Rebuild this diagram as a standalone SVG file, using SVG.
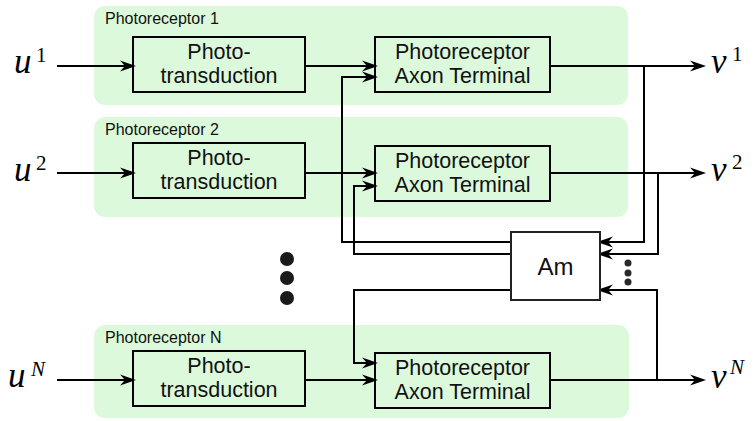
<svg xmlns="http://www.w3.org/2000/svg" width="756" height="421" viewBox="0 0 756 421">
  <style>
    .panel { fill: #dcfadb; }
    .box { fill: none; stroke: #000; stroke-width: 2; }
    .am { fill: #fff; stroke: #222; stroke-width: 2; }
    .lbl { font-family: "Liberation Sans", Arial, sans-serif; font-size: 16px; fill: #111; }
    .txt { font-family: "Liberation Sans", Arial, sans-serif; font-size: 21.5px; fill: #111; text-anchor: middle; }
    .math { font-family: "Liberation Serif", "Times New Roman", serif; font-style: italic; font-size: 35px; fill: #000; }
    .sup { font-family: "Liberation Serif", "Times New Roman", serif; font-style: normal; font-size: 21px; fill: #000; }
    .supi { font-family: "Liberation Serif", "Times New Roman", serif; font-style: italic; font-size: 21px; fill: #000; }
    .wire { fill: none; stroke: #000; stroke-width: 2; }
    .arr { marker-end: url(#ah); }
  </style>
  <defs>
    <marker id="ah" viewBox="-14 -6 17 12" refX="0" refY="0" markerWidth="17" markerHeight="12" markerUnits="userSpaceOnUse" orient="auto">
      <path d="M3,0 L-13,-5.5 L-8,0 L-13,5.5 Z" fill="#000"/>
    </marker>
  </defs>

  <!-- photoreceptor 1 -->
  <g id="photoreceptor-1">
    <rect class="panel" x="94" y="6" width="534" height="99" rx="11"/>
    <text class="lbl" x="105" y="24">Photoreceptor 1</text>
    <g id="phototransduction-1">
      <rect class="box" x="133" y="37" width="172" height="55"/>
      <text class="txt" x="219" y="59">Photo-</text>
      <text class="txt" x="219" y="83">transduction</text>
    </g>
    <g id="axon-terminal-1">
      <rect class="box" x="375" y="37" width="175" height="55"/>
      <text class="txt" x="462.5" y="59">Photoreceptor</text>
      <text class="txt" x="462.5" y="83">Axon Terminal</text>
    </g>
  </g>

  <!-- photoreceptor 2 -->
  <g id="photoreceptor-2">
    <rect class="panel" x="94" y="117" width="534" height="100" rx="11"/>
    <text class="lbl" x="105" y="135">Photoreceptor 2</text>
    <g id="phototransduction-2">
      <rect class="box" x="133" y="143" width="172" height="55"/>
      <text class="txt" x="219" y="165">Photo-</text>
      <text class="txt" x="219" y="189">transduction</text>
    </g>
    <g id="axon-terminal-2">
      <rect class="box" x="375" y="146" width="175" height="55"/>
      <text class="txt" x="462.5" y="168">Photoreceptor</text>
      <text class="txt" x="462.5" y="192">Axon Terminal</text>
    </g>
  </g>

  <!-- photoreceptor N -->
  <g id="photoreceptor-n">
    <rect class="panel" x="94" y="325" width="535" height="93" rx="11"/>
    <text class="lbl" x="105" y="343">Photoreceptor N</text>
    <g id="phototransduction-n">
      <rect class="box" x="133" y="351" width="172" height="55"/>
      <text class="txt" x="219" y="373">Photo-</text>
      <text class="txt" x="219" y="397">transduction</text>
    </g>
    <g id="axon-terminal-n">
      <rect class="box" x="375" y="353" width="175" height="55"/>
      <text class="txt" x="462.5" y="375">Photoreceptor</text>
      <text class="txt" x="462.5" y="399">Axon Terminal</text>
    </g>
  </g>

  <!-- vertical ellipsis between photoreceptors -->
  <g id="ellipsis" fill="#1a1a1a">
    <circle cx="287" cy="259" r="7"/>
    <circle cx="287" cy="278" r="7"/>
    <circle cx="287" cy="298" r="7"/>
  </g>

  <!-- connectors -->
  <g id="connectors">
    <!-- inputs -->
    <path class="wire arr" d="M57,66 H133"/>
    <path class="wire arr" d="M57,173 H133"/>
    <path class="wire arr" d="M57,380 H133"/>
    <!-- phototransduction to axon terminal -->
    <path class="wire arr" d="M305,66 H375"/>
    <path class="wire arr" d="M305,173 H375"/>
    <path class="wire arr" d="M305,380 H375"/>
    <!-- outputs -->
    <path class="wire arr" d="M550,66 H703"/>
    <path class="wire arr" d="M550,173 H703"/>
    <path class="wire arr" d="M550,380 H703"/>
    <!-- outputs fed to Am -->
    <path class="wire arr" d="M644,66 V242 H600"/>
    <path class="wire arr" d="M658,173 V254 H600"/>
    <path class="wire arr" d="M657,380 V290 H600"/>
    <!-- Am feedback to axon terminals -->
    <path class="wire arr" d="M511,242 H342 V77 H375"/>
    <path class="wire arr" d="M511,254 H354 V186 H375"/>
    <path class="wire arr" d="M511,290 H354 V363 H375"/>
  </g>

  <!-- amacrine cell -->
  <g id="am">
    <rect class="am" x="511" y="232" width="89" height="68"/>
    <text class="txt" x="555.5" y="275" style="font-size:24px">Am</text>
    <g fill="#2a2a2a">
      <circle cx="628" cy="263" r="3.5"/>
      <circle cx="628" cy="273" r="3.5"/>
      <circle cx="628" cy="282" r="3.5"/>
    </g>
  </g>

  <!-- input labels -->
  <g id="input-labels">
    <text class="math" x="14" y="73">u<tspan class="sup" x="36" y="62">1</tspan></text>
    <text class="math" x="14" y="181">u<tspan class="sup" x="36" y="170">2</tspan></text>
    <text class="math" x="8" y="387">u<tspan class="supi" x="31" y="376">N</tspan></text>
  </g>

  <!-- output labels -->
  <g id="output-labels">
    <text class="math" x="711" y="73">v<tspan class="sup" x="732" y="61">1</tspan></text>
    <text class="math" x="711" y="181">v<tspan class="sup" x="732" y="169">2</tspan></text>
    <text class="math" x="711" y="388">v<tspan class="supi" x="730" y="374">N</tspan></text>
  </g>
</svg>
